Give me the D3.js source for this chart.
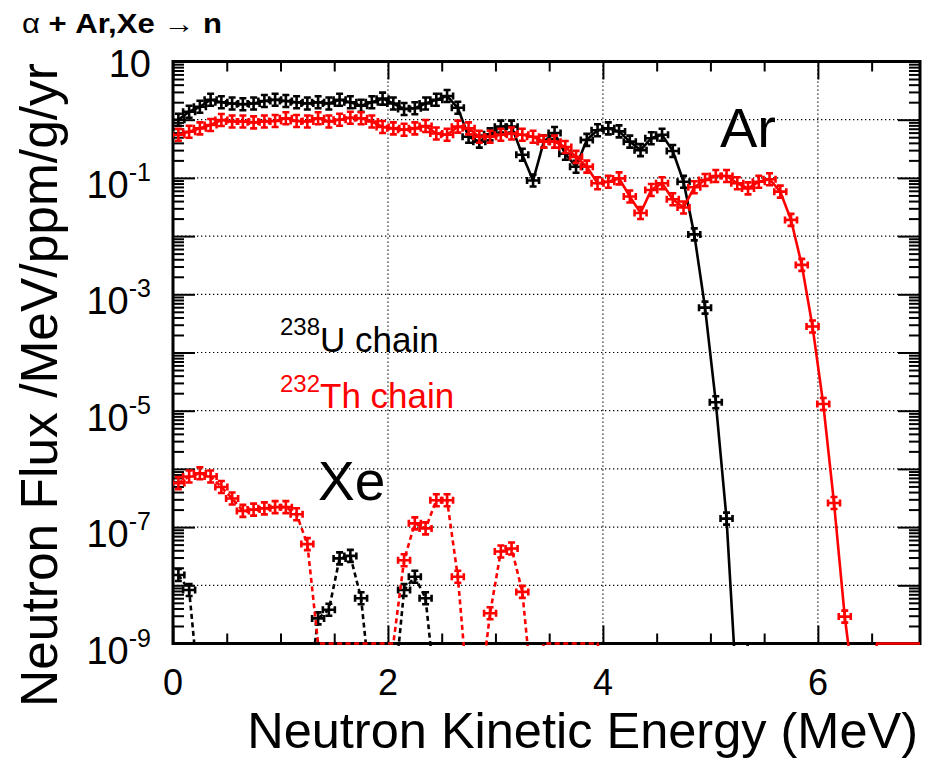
<!DOCTYPE html>
<html><head><meta charset="utf-8">
<script src="https://cdn.jsdelivr.net/npm/d3@7"></script>
<style>
body{margin:0;background:#fff}
svg{display:block}
text{font-family:"Liberation Sans",Arial,Helvetica,sans-serif}
</style></head>
<body><svg id="c" width="928" height="758"></svg>
<script>
// ---- data: neutron flux per 0.1 MeV bin (bin centres, MeV) ----
const binCenters = [0.05,0.15,0.25,0.35,0.45,0.55,0.65,0.75,0.85,0.95,
  1.05,1.15,1.25,1.35,1.45,1.55,1.65,1.75,1.85,1.95,
  2.05,2.15,2.25,2.35,2.45,2.55,2.65,2.75,2.85,2.95,
  3.05,3.15,3.25,3.35,3.45,3.55,3.65,3.75,3.85,3.95,
  4.05,4.15,4.25,4.35,4.45,4.55,4.65,4.75,4.85,4.95,
  5.05,5.15,5.25,5.35,5.45,5.55,5.65,5.75,5.85,5.95,
  6.05,6.15,6.25,6.35,6.45,6.55,6.65,6.75,6.85,6.95];

// Ar, 238U chain (black, solid)
const arU = [1.0,1.37,1.67,2.2,2.0,1.9,1.84,1.9,2.1,2.2,
  2.1,2.0,1.9,2.0,1.9,2.2,2.0,1.74,2.0,2.3,
  1.9,1.53,1.57,1.9,2.2,2.55,1.6,0.51,0.42,0.56,
  0.76,0.76,0.25,0.09,0.42,0.59,0.26,0.155,0.45,0.66,
  0.71,0.63,0.42,0.3,0.48,0.55,0.29,0.086,0.0107,5.9e-4,
  1.4e-5,1.4e-7,1e-10,0,0,0,0,0,0,0,
  0,0,0,0,0,0,0,0,0,0];

// Ar, 232Th chain (red, solid)
const arTh = [0.55,0.62,0.71,0.81,0.99,0.93,0.93,0.90,0.93,0.95,
  1.06,0.95,0.93,1.06,0.93,1.0,1.08,1.06,0.93,0.75,
  0.71,0.67,0.71,0.78,0.58,0.55,0.76,0.71,0.51,0.51,
  0.55,0.58,0.55,0.51,0.42,0.42,0.34,0.23,0.156,0.081,
  0.086,0.098,0.048,0.025,0.062,0.081,0.043,0.031,0.069,0.092,
  0.108,0.108,0.081,0.066,0.086,0.095,0.058,0.019,3.2e-3,2.8e-4,
  1.3e-5,2.6e-7,2.9e-9,1e-10,1e-10,0,0,0,0,0];

// Xe, 238U chain (black, dashed)
const xeU = [1.5e-8,8.3e-9,1e-10,1e-10,1e-10,1e-10,1e-10,1e-10,1e-10,1e-10,
  1e-10,1e-10,1e-10,2.7e-9,3.8e-9,2.9e-8,3.2e-8,6e-9,1e-10,1e-10,
  1e-10,8.3e-9,1.4e-8,6e-9,1e-10,1e-10,1e-10,1e-10,1e-10,1e-10,
  1e-10,1e-10,1e-10,1e-10,1e-10,1e-10,1e-10,1e-10,1e-10,1e-10,
  1e-10,1e-10,1e-10,1e-10,1e-10,1e-10,1e-10,1e-10,1e-10,1e-10,
  1e-10,1e-10,1e-10,1e-10,1e-10,1e-10,1e-10,1e-10,1e-10,1e-10,
  1e-10,1e-10,1e-10,1e-10,1e-10,1e-10,1e-10,1e-10,1e-10,1e-10];

// Xe, 232Th chain (red, dashed)
const xeTh = [5.7e-7,7.4e-7,8.4e-7,7.4e-7,4.9e-7,3.1e-7,1.9e-7,2.0e-7,2.1e-7,2.2e-7,
  2.2e-7,1.66e-7,5.1e-8,0,0,0,0,0,0,0,
  0,2.7e-8,1.16e-7,9.5e-8,2.9e-7,2.9e-7,1.4e-8,1e-10,1e-10,3.3e-9,
  3.8e-8,4.3e-8,7.7e-9,1e-10,0,0,0,0,0,0,
  1e-10,1e-10,1e-10,1e-10,1e-10,1e-10,1e-10,1e-10,1e-10,1e-10,
  1e-10,1e-10,1e-10,1e-10,1e-10,1e-10,1e-10,1e-10,1e-10,1e-10,
  1e-10,1e-10,1e-10,1e-10,1e-10,1e-10,1e-10,1e-10,1e-10,1e-10];

// ---- axis ticks / labels ----
const xMajorTicks = [0,2,4,6];
const xMinorTicks = [0.5,1,1.5,2.5,3,3.5,4.5,5,5.5,6.5];
const yDecades = [1e-9,1e-8,1e-7,1e-6,1e-5,1e-4,1e-3,1e-2,1e-1,1,10];
const yLabelValues = [10,1e-1,1e-3,1e-5,1e-7,1e-9];
const yLabelBase = ["10","10","10","10","10","10"];
const yLabelExp  = ["","-1","-3","-5","-7","-9"];
const xTitle = "Neutron Kinetic Energy (MeV)";
const yTitle = "Neutron Flux /MeV/ppm/g/yr";

// ---- layout ----
const L=173, R=920, T=61.5, B=643.5;
const svg = d3.select("#c");
const x = d3.scaleLinear().domain([0,6.95]).range([L,R]);
const y = d3.scaleLog().domain([1e-9,10]).range([B,T]);
const yMin = 1e-9;
const yOf = v => v <= 0 ? y(yMin) : y(v);

// grid
const grid = svg.append("g").attr("stroke","#000").attr("stroke-width",1.2)
  .attr("stroke-dasharray","1.3,2.7");
grid.selectAll("line.gy").data(yDecades.filter(d=>d>1e-9 && d<10)).join("line")
  .attr("x1",L).attr("x2",R).attr("y1",d=>y(d)).attr("y2",d=>y(d));
grid.selectAll("line.gx").data(xMajorTicks.filter(d=>d>0)).join("line")
  .attr("y1",T).attr("y2",B).attr("x1",d=>x(d)).attr("x2",d=>x(d));

// axes ticks (inward, all four sides)
function styleAxis(g){ g.select(".domain").remove(); g.selectAll("line").attr("stroke","#000").attr("stroke-width",2); g.selectAll("text").remove(); }
svg.append("g").attr("transform",`translate(0,${B})`).call(d3.axisBottom(x).tickValues(xMajorTicks).tickSize(-18)).call(styleAxis);
svg.append("g").attr("transform",`translate(0,${B})`).call(d3.axisBottom(x).tickValues(xMinorTicks).tickSize(-10)).call(styleAxis);
svg.append("g").attr("transform",`translate(0,${T})`).call(d3.axisTop(x).tickValues(xMajorTicks).tickSize(-18)).call(styleAxis);
svg.append("g").attr("transform",`translate(0,${T})`).call(d3.axisTop(x).tickValues(xMinorTicks).tickSize(-10)).call(styleAxis);
const yMinor = [];
yDecades.slice(0,-1).forEach(d=>{ for(let k=2;k<=9;k++) yMinor.push(d*k); });
svg.append("g").attr("transform",`translate(${L},0)`).call(d3.axisLeft(y).tickValues(yDecades).tickSize(-22)).call(styleAxis);
svg.append("g").attr("transform",`translate(${L},0)`).call(d3.axisLeft(y).tickValues(yMinor).tickSize(-11)).call(styleAxis);
svg.append("g").attr("transform",`translate(${R},0)`).call(d3.axisRight(y).tickValues(yDecades).tickSize(-22)).call(styleAxis);
svg.append("g").attr("transform",`translate(${R},0)`).call(d3.axisRight(y).tickValues(yMinor).tickSize(-11)).call(styleAxis);

// frame
svg.append("rect").attr("x",L).attr("y",T).attr("width",R-L).attr("height",B-T)
  .attr("fill","none").attr("stroke","#000").attr("stroke-width",3);

// tick labels
svg.append("g").selectAll("text").data(xMajorTicks).join("text")
  .attr("x",d=>x(d)).attr("y",695).attr("text-anchor","middle")
  .attr("font-size",36).text(d=>d);
const yl = svg.append("g").selectAll("text").data(yLabelValues).join("text")
  .attr("x",151).attr("text-anchor","end").attr("font-size",38)
  .attr("y",(d,i)=> y(d) + (yLabelExp[i] ? 20 : 15));
yl.append("tspan").text((d,i)=>yLabelBase[i]);
yl.append("tspan").attr("font-size",25).attr("dy",-17).text((d,i)=>yLabelExp[i]);

// axis titles
svg.append("text").attr("x",918).attr("y",748).attr("text-anchor","end")
  .attr("font-size",50.5).text(xTitle);
svg.append("text").attr("transform","translate(57,707) rotate(-90)")
  .attr("text-anchor","start").attr("font-size",51.5).text(yTitle);

// title
const tt = svg.append("text").attr("x",22).attr("y",33).attr("font-size",27)
  .attr("textLength",200).attr("lengthAdjust","spacingAndGlyphs").style("white-space","pre");
tt.append("tspan").text("α");
tt.append("tspan").attr("font-weight","bold").text(" + Ar,Xe ");
tt.append("tspan").text("→");
tt.append("tspan").attr("font-weight","bold").text(" n");

// series
svg.append("defs").append("clipPath").attr("id","clip").append("rect")
  .attr("x",L).attr("y",T).attr("width",R-L).attr("height",B-T+2.5);
const plot = svg.append("g").attr("clip-path","url(#clip)");
const line = d3.line().x((d,i)=>x(binCenters[i])).y(d=>yOf(d)).curve(d3.curveLinear);
const markerPath = "M-6,0H6M0,-6V6M-6,-3.5V3.5M6,-3.5V3.5M-3.5,-6H3.5M-3.5,6H3.5";
const series = [
  {vals:xeU, color:"#000", dash:"5,3.5"},
  {vals:arU, color:"#000", dash:null},
  {vals:xeTh, color:"#ff0000", dash:"5,3.5"},
  {vals:arTh, color:"#ff0000", dash:null}
];
series.forEach(s=>{
  plot.append("path").attr("d",line(s.vals)).attr("fill","none")
    .attr("stroke",s.color).attr("stroke-width",2.6).attr("stroke-dasharray",s.dash);
  const pts = s.vals.map((v,i)=>({v,e:binCenters[i]})).filter(p=>p.v>=yMin);
  plot.append("g").selectAll("path").data(pts).join("path")
    .attr("transform",p=>`translate(${x(p.e)},${y(p.v)})`)
    .attr("d",markerPath).attr("fill","none").attr("stroke",s.color).attr("stroke-width",2.6);
});

// annotations
const u = svg.append("text").attr("x",280).attr("y",352).attr("fill","#000");
u.append("tspan").attr("font-size",24).attr("dy",-17).text("238");
u.append("tspan").attr("font-size",35).attr("dy",17).text("U chain");
const th = svg.append("text").attr("x",280).attr("y",408).attr("fill","#ff0000");
th.append("tspan").attr("font-size",24).attr("dy",-16).text("232");
th.append("tspan").attr("font-size",35).attr("dy",16).text("Th chain");
svg.append("text").attr("x",720).attr("y",147).attr("font-size",56).text("Ar");
svg.append("text").attr("x",318).attr("y",500).attr("font-size",55).text("Xe");
</script></body></html>
